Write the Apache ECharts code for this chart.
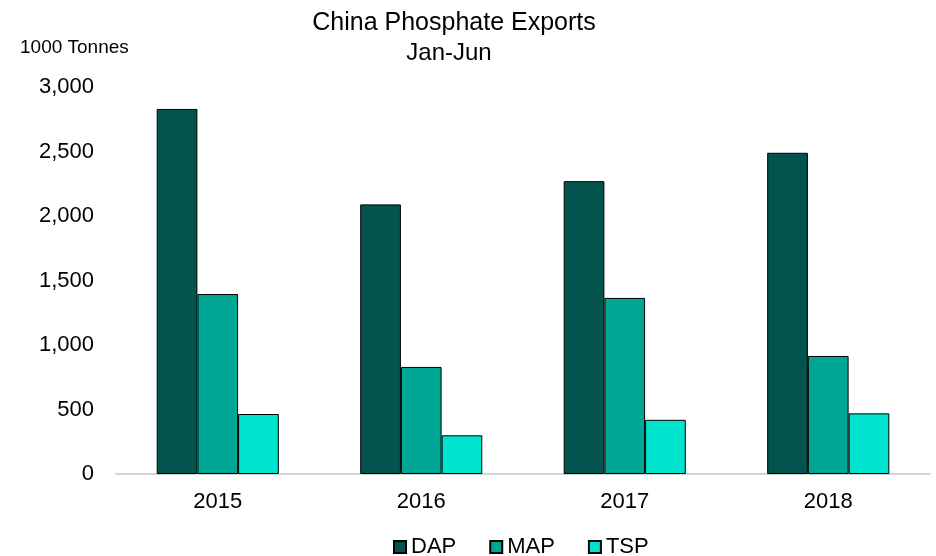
<!DOCTYPE html>
<html>
<head>
<meta charset="utf-8">
<script src="https://cdn.jsdelivr.net/npm/echarts@6/dist/echarts.min.js"></script>
<style>
    html, body { margin: 0; padding: 0; background: #fff; }
    #chart { width: 936px; height: 556px; }
</style>
</head>
<body>
<div id="chart"></div>
<script>
    var years = ['2015', '2016', '2017', '2018'];
    var dap = [2830, 2090, 2270, 2490];
    var map = [1395, 830, 1365, 915];
    var tsp = [465, 300, 420, 470];
    var yTicks = [0, 500, 1000, 1500, 2000, 2500, 3000];

    var font = 'Liberation Sans, Arial, sans-serif';
    var chart = echarts.init(document.getElementById('chart'));

    function barSeries(name, data, color) {
        return {
            name: name,
            type: 'bar',
            data: data,
            barGap: '0%',
            barCategoryGap: '40%',
            itemStyle: { color: color, borderColor: '#000', borderWidth: 1 },
            animation: false
        };
    }

    chart.setOption({
        textStyle: { fontFamily: font },
        title: [
            {
                text: 'China Phosphate Exports',
                left: 449, top: 6, textAlign: 'center',
                textStyle: { fontFamily: font, fontSize: 25, fontWeight: 'normal', color: '#000' }
            },
            {
                text: 'Jan-Jun',
                left: 444, top: 36, textAlign: 'center',
                textStyle: { fontFamily: font, fontSize: 24, fontWeight: 'normal', color: '#000' }
            },
            {
                text: '1000 Tonnes',
                left: 15, top: 33,
                textStyle: { fontFamily: font, fontSize: 19, fontWeight: 'normal', color: '#000' }
            }
        ],
        legend: {
            left: 388, top: 536, padding: [0, 5, 0, 5],
            itemWidth: 12, itemHeight: 12, itemGap: 33,
            icon: 'rect',
            textStyle: { fontFamily: font, fontSize: 22, color: '#000', padding: [0, 0, 0, 0] },
            data: ['DAP', 'MAP', 'TSP']
        },
        grid: { left: 116, right: 6, top: 87, bottom: 82, containLabel: false },
        xAxis: {
            type: 'category',
            data: years,
            axisLine: { lineStyle: { color: '#d4d4d4', width: 2 } },
            axisTick: { show: false },
            axisLabel: { fontFamily: font, fontSize: 22, color: '#000', margin: 17 }
        },
        yAxis: {
            type: 'value',
            min: yTicks[0],
            max: yTicks[yTicks.length - 1],
            interval: 500,
            splitLine: { show: false },
            axisLine: { show: false },
            axisTick: { show: false },
            axisLabel: {
                fontFamily: font, fontSize: 22, color: '#000', margin: 22,
                formatter: function (v) { return v.toLocaleString('en-US'); }
            }
        },
        series: [
            barSeries('DAP', dap, '#02544c'),
            barSeries('MAP', map, '#00a694'),
            barSeries('TSP', tsp, '#00e3cc')
        ]
    });
</script>
</body>
</html>
